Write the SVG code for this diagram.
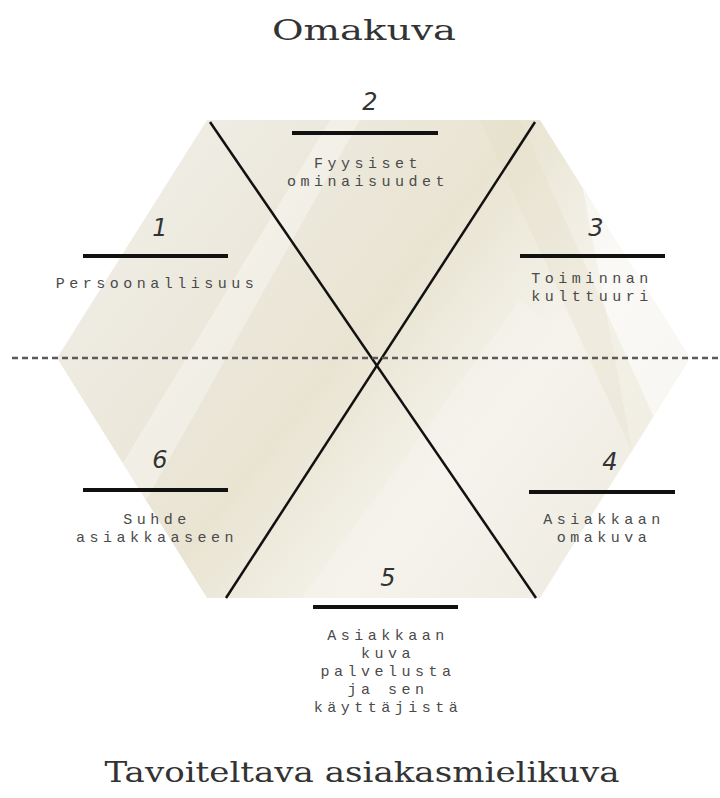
<svg xmlns="http://www.w3.org/2000/svg" width="720" height="798" viewBox="0 0 720 798">
<defs>
<style>
.title{font-family:"DejaVu Serif","Liberation Serif",serif;font-size:28px;fill:#333;text-anchor:middle}
.num{font-family:"DejaVu Sans","Liberation Sans",sans-serif;font-size:24px;font-style:italic;font-weight:300;fill:#333;text-anchor:middle}
.lbl{font-family:"Liberation Mono","DejaVu Sans Mono",monospace;font-size:15px;fill:#4a4a4a;text-anchor:middle;letter-spacing:4.5px}
.bar{stroke:#111;stroke-width:4}
.cross{stroke:#111;stroke-width:2.5;fill:none}
</style>
<linearGradient id="bg" x1="0" y1="0" x2="1" y2="0.6">
<stop offset="0" stop-color="#f1f0eb"/>
<stop offset="0.35" stop-color="#ece8dc"/>
<stop offset="0.55" stop-color="#e9e4d2"/>
<stop offset="0.78" stop-color="#f5f3ec"/>
<stop offset="1" stop-color="#f0ede4"/>
</linearGradient>
<clipPath id="hexclip"><polygon points="207,120 540,120 690,358 540,598 207,598 57,358"/></clipPath>
</defs>
<rect width="720" height="798" fill="#ffffff"/>
<g id="background">
<polygon points="207,120 540,120 690,358 540,598 207,598 57,358" fill="url(#bg)"/>
<g clip-path="url(#hexclip)">
<polygon points="40,600 330,120 360,120 90,600" fill="#f8f7f2" opacity="0.5"/>
<polygon points="570,120 700,120 700,600 660,600" fill="#ffffff" opacity="0.5"/>
<polygon points="480,120 520,120 700,520 700,600" fill="#e6dfc8" opacity="0.35"/>
<polygon points="300,600 520,300 545,320 340,600" fill="#f6f4ee" opacity="0.5"/>
</g>
</g>
<g id="connectors">
<line class="cross" x1="210" y1="122" x2="536" y2="598"/>
<line class="cross" x1="535" y1="122" x2="226" y2="598"/>
<line x1="12" y1="358" x2="720" y2="358" stroke="#5a5a5a" stroke-width="2.6" stroke-dasharray="6,4"/>
</g>
<g id="title-top"><text class="title" x="364" y="40" textLength="184" lengthAdjust="spacingAndGlyphs">Omakuva</text></g>
<g id="title-bottom"><text class="title" x="362" y="782" textLength="515" lengthAdjust="spacingAndGlyphs">Tavoiteltava asiakasmielikuva</text></g>
<g id="node1">
<text class="num" x="160" y="236">1</text>
<line class="bar" x1="83" y1="256" x2="228" y2="256"/>
<text class="lbl" x="157" y="288">Persoonallisuus</text>
</g>
<g id="node2">
<text class="num" x="370" y="110">2</text>
<line class="bar" x1="292" y1="133" x2="438" y2="133"/>
<text class="lbl" x="368" y="168">Fyysiset</text>
<text class="lbl" x="368" y="186">ominaisuudet</text>
</g>
<g id="node3">
<text class="num" x="596" y="236">3</text>
<line class="bar" x1="520" y1="256" x2="665" y2="256"/>
<text class="lbl" x="592" y="283">Toiminnan</text>
<text class="lbl" x="592" y="301">kulttuuri</text>
</g>
<g id="node4">
<text class="num" x="610" y="470">4</text>
<line class="bar" x1="529" y1="492" x2="675" y2="492"/>
<text class="lbl" x="604" y="524">Asiakkaan</text>
<text class="lbl" x="604" y="542">omakuva</text>
</g>
<g id="node5">
<text class="num" x="388" y="586">5</text>
<line class="bar" x1="313" y1="607" x2="458" y2="607"/>
<text class="lbl" x="388" y="640">Asiakkaan</text>
<text class="lbl" x="388" y="658">kuva</text>
<text class="lbl" x="388" y="676">palvelusta</text>
<text class="lbl" x="388" y="694">ja sen</text>
<text class="lbl" x="388" y="712">käyttäjistä</text>
</g>
<g id="node6">
<text class="num" x="160" y="468">6</text>
<line class="bar" x1="83" y1="490" x2="228" y2="490"/>
<text class="lbl" x="157" y="524">Suhde</text>
<text class="lbl" x="157" y="542">asiakkaaseen</text>
</g>
</svg>
